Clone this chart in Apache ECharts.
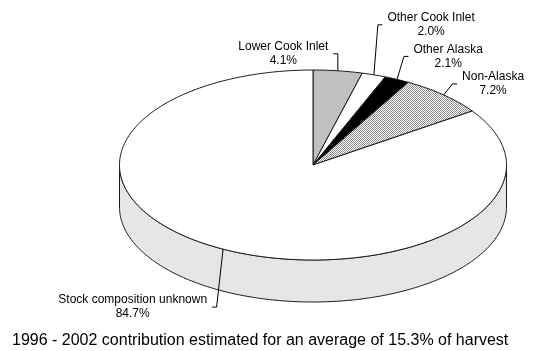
<!DOCTYPE html>
<html>
<head>
<meta charset="utf-8">
<script src="https://cdn.jsdelivr.net/npm/echarts@6/dist/echarts.min.js"></script>
<style>
  html, body { margin: 0; padding: 0; background: #fff; }
  #chart { width: 552px; height: 351px; }
</style>
</head>
<body>
<div id="chart"></div>
<script>
// Harvest contribution by stock of origin (percent)
const sliceNames = ['Lower Cook Inlet', 'Other Cook Inlet', 'Other Alaska', 'Non-Alaska', 'Stock composition unknown'];
const sliceShares = [4.1, 2.0, 2.1, 7.2, 84.7];
const caption = '1996 - 2002 contribution estimated for an average of 15.3% of harvest';

const FONT = '"Liberation Sans", Arial, Helvetica, sans-serif';

// Tilted pie: ellipse centre, radii and rim thickness
const PIE = { cx: 313, cy: 165, rx: 193.5, ry: 95, depth: 42 };

// Fine stipple used for the Non-Alaska wedge
const stipple = (() => {
  const c = document.createElement('canvas');
  c.width = c.height = 4;
  const g = c.getContext('2d');
  g.fillStyle = '#ffffff';
  g.fillRect(0, 0, 4, 4);
  g.fillStyle = '#8a8a8a';
  for (let y = 0; y < 4; y++) for (let x = 0; x < 4; x++) if ((x + y) % 2 === 0) g.fillRect(x, y, 1, 1);
  return c;
})();

const sliceFills = ['#c0c0c0', '#ffffff', '#000000', { image: stipple, repeat: 'repeat' }, '#ffffff'];
const sideFill = '#e6e6e6';
const edgeColor = '#1a1a1a';

// Leader lines: knee offset from the rim point and the way the hook turns
const leaders = [
  { dx: 0,    dy: -17, side: -1 },
  { dx: 4,    dy: -50, side: 1 },
  { dx: 7,    dy: -23, side: 1 },
  { dx: 9,    dy: -11, side: 1 },
  { dx: -6.5, dy: 58,  side: -1 }
];
const HOOK = 4.5, GAP = 5, LABEL_SIZE = 12, LABEL_LH = 14;

const measureCtx = document.createElement('canvas').getContext('2d');
measureCtx.font = LABEL_SIZE + 'px ' + FONT;

const total = sliceShares.reduce((a, b) => a + b, 0);
const starts = [];
sliceShares.reduce((acc, v, i) => { starts[i] = acc; return acc + v; }, 0);

// angle in degrees, clockwise from 12 o'clock
function rim(deg, drop) {
  const t = deg * Math.PI / 180;
  return [PIE.cx + PIE.rx * Math.sin(t), PIE.cy - PIE.ry * Math.cos(t) + (drop || 0)];
}
function arc(a, b, drop) {
  const pts = [];
  const n = Math.max(2, Math.ceil(Math.abs(b - a)));
  for (let k = 0; k <= n; k++) pts.push(rim(a + (b - a) * k / n, drop));
  return pts;
}

function renderItem(params, api) {
  const i = params.dataIndex;
  const v = api.value(0);
  const a0 = starts[i] / total * 360;
  const a1 = (starts[i] + v) / total * 360;
  const children = [];

  // visible rim (front half of the pie)
  const s0 = Math.max(a0, 90), s1 = Math.min(a1, 270);
  if (s0 < s1) {
    const pts = arc(s0, s1, 0).concat(arc(s1, s0, PIE.depth));
    children.push({
      type: 'polygon', z2: 1,
      shape: { points: pts },
      style: { fill: sideFill, stroke: edgeColor, lineWidth: 1 }
    });
  }

  // top face
  children.push({
    type: 'polygon', z2: 2,
    shape: { points: [[PIE.cx, PIE.cy]].concat(arc(a0, a1, 0)) },
    style: { fill: sliceFills[i], stroke: edgeColor, lineWidth: 1 }
  });

  // leader line from the middle of the wedge's rim
  const L = leaders[i];
  const p = rim((a0 + a1) / 2, 0);
  const knee = [p[0] + L.dx, p[1] + L.dy];
  const hookEnd = [knee[0] + L.side * HOOK, knee[1]];
  children.push({
    type: 'polyline', z2: 3,
    shape: { points: [p, knee, hookEnd] },
    style: { fill: null, stroke: '#000', lineWidth: 1 }
  });

  // two-line label: name and share
  const lines = [sliceNames[i], v.toFixed(1) + '%'];
  const w = Math.max.apply(null, lines.map(s => measureCtx.measureText(s).width));
  const tx = L.side > 0 ? hookEnd[0] + GAP + w / 2 : hookEnd[0] - GAP - w / 2;
  children.push({
    type: 'text', z2: 3,
    x: tx, y: knee[1],
    style: {
      text: lines.join('\n'),
      font: LABEL_SIZE + 'px ' + FONT,
      lineHeight: LABEL_LH,
      align: 'center', verticalAlign: 'middle',
      fill: '#000'
    }
  });

  return { type: 'group', children };
}

const chart = echarts.init(document.getElementById('chart'), null, { renderer: 'canvas' });
chart.setOption({
  animation: false,
  backgroundColor: '#fff',
  title: {
    text: caption,
    left: 12, top: 333, padding: 0,
    textStyle: { fontFamily: FONT, fontSize: 16, fontWeight: 'normal', color: '#000' }
  },
  series: [{
    type: 'custom',
    coordinateSystem: 'none',
    silent: true,
    data: sliceShares.map((v, i) => ({ name: sliceNames[i], value: [v] })),
    renderItem
  }]
});
</script>
</body>
</html>
